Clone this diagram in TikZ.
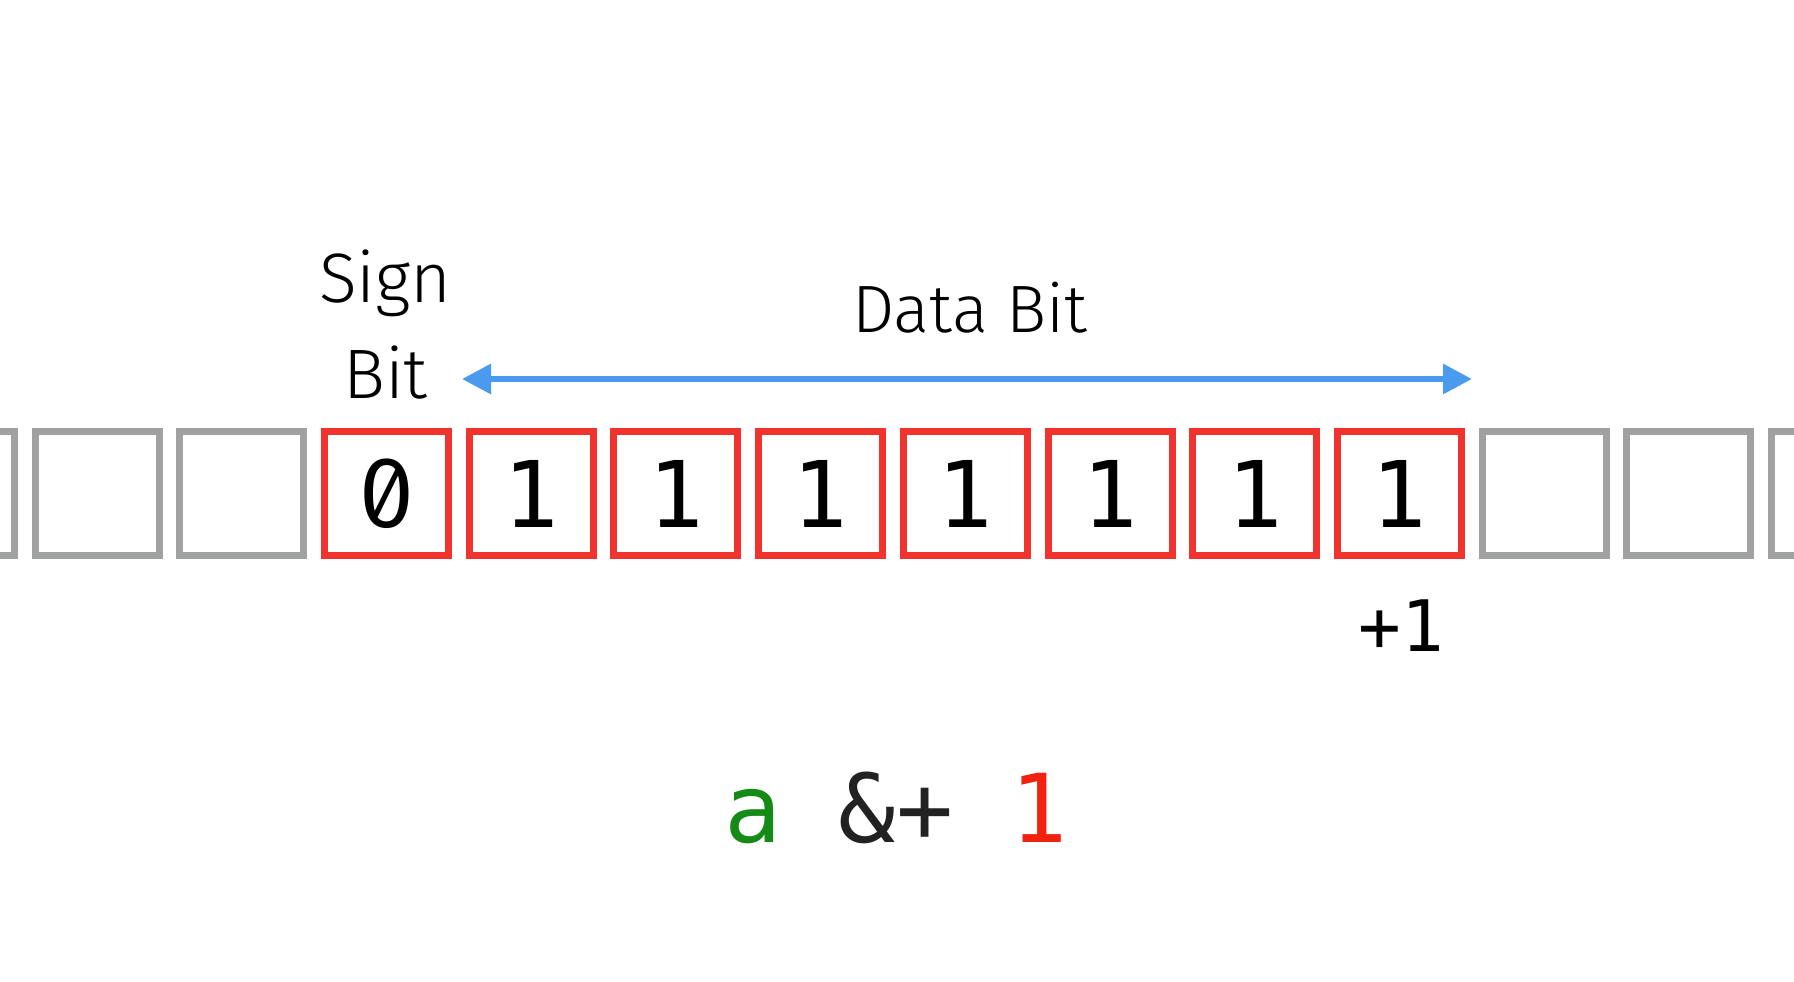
\documentclass[tikz,border=0pt]{standalone}
\usepackage{fontspec}
\usetikzlibrary{arrows.meta}
\newfontfamily\monofont{DejaVu Sans Mono}
\newfontfamily\zerofont[RawFeature=+zero]{Fira Mono}
\newfontfamily\lightfont{Fira Sans Light}
\definecolor{boxred}{RGB}{240,52,45}
\definecolor{boxgray}{RGB}{160,162,161}
\definecolor{arrowblue}{RGB}{74,155,240}
\definecolor{agreen}{RGB}{22,138,22}
\definecolor{ared}{RGB}{242,34,14}
\definecolor{dark}{RGB}{34,34,34}
\begin{document}
\begin{tikzpicture}[x=1pt,y=-1pt,
  cell/.style={draw, line width=7pt, minimum width=124pt, minimum height=124pt, inner sep=0pt, font=\monofont\fontsize{92}{92}\selectfont},
  redcell/.style={cell, draw=boxred},
  graycell/.style={cell, draw=boxgray},
  lbl/.style={font=\lightfont\fontsize{70}{70}\selectfont, anchor=base, inner sep=0pt},
  codetext/.style={font=\monofont\fontsize{#1}{#1}\selectfont, anchor=base, inner sep=0pt}
]
\useasboundingbox (0,0) rectangle (1794,982);
\fill[white] (0,0) rectangle (1794,982);
\begin{scope}
\clip (0,0) rectangle (1794,982);
\node[redcell] (b0) at (386.5,493.5) {\raisebox{-3pt}{\zerofont\fontsize{98}{98}\selectfont 0}};
\foreach \i in {1,...,7}
  \node[redcell] (b\i) at ({386.5+144.7*\i},493.5) {\raisebox{-3pt}{1}};
\foreach \k [count=\i] in {-3,-2,-1,8,9,10}
  \node[graycell] (g\i) at ({386.5+144.7*\k},493.5) {};
\end{scope}
\node[lbl] (sign) at (385.5,302.7) {Sign};
\node[lbl] (bit) at (385.5,398.3) {Bit};
\node[lbl, font=\lightfont\fontsize{67}{67}\selectfont] (data) at (970,332.7) {Data Bit};
\coordinate (al) at (462,379);
\coordinate (ar) at (1472,379);
\draw[arrowblue, line width=6pt, {Triangle[length=29pt,width=29pt]}-{Triangle[length=29pt,width=29pt]}] (al) -- (ar);
\node[codetext=71] (plus) at (1401,651.7) {+1};
\node[codetext=95] (expr) at (896,842) {\textcolor{agreen}{a} \textcolor{dark}{\&+} \textcolor{ared}{1}};
\end{tikzpicture}
\end{document}
